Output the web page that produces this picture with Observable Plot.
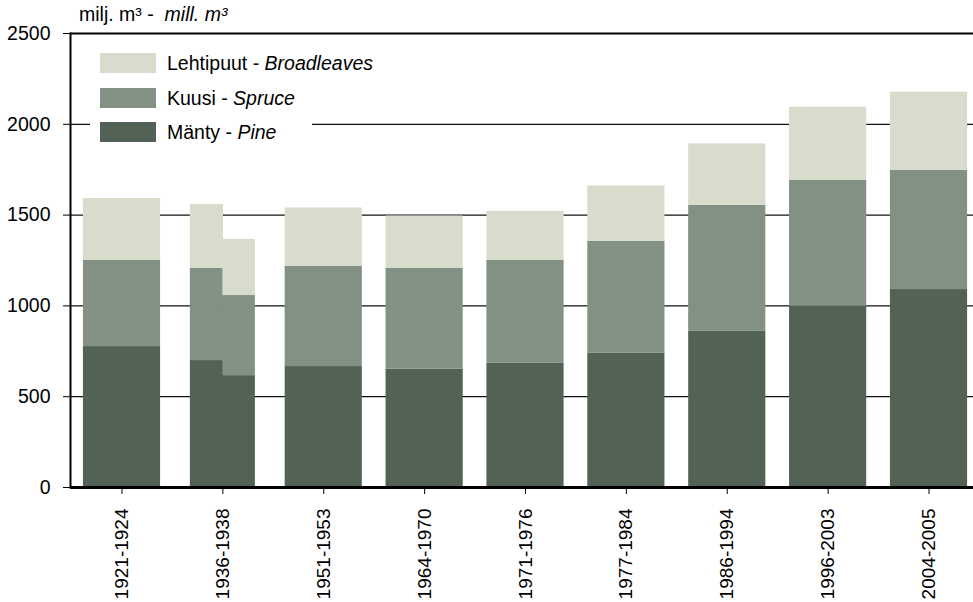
<!DOCTYPE html>
<html><head><meta charset="utf-8">
<script src="https://cdn.jsdelivr.net/npm/d3@7"></script>
<script src="https://cdn.jsdelivr.net/npm/@observablehq/plot@0.6"></script>
<style>
body{margin:0;background:#fff;font-family:"Liberation Sans",Arial,sans-serif;}
#wrap{position:relative;width:973px;height:602px;overflow:hidden;}
#title{position:absolute;left:79px;top:3px;font-size:19.5px;color:#000;white-space:pre;}
#legend{position:absolute;left:90px;top:46px;width:222px;height:104px;background:#fff;}
.row{position:absolute;left:10px;height:20px;display:flex;align-items:center;font-size:19.5px;color:#000;white-space:pre;}
.sw{width:56px;height:20px;margin-right:11px;flex:none;}
#chart svg g[aria-label="y-axis tick label"] text{font-size:19.5px;}
#chart svg g[aria-label="x-axis tick label"] text{font-size:19px;}
</style></head><body>
<div id="wrap"><div id="chart"></div><div id="title"></div><div id="legend"></div></div>
<script>
// ---- data ----
const periods = ["1921-1924","1936-1938","1951-1953","1964-1970","1971-1976","1977-1984","1986-1994","1996-2003","2004-2005"];
const pine        = [776, 699, 666, 651, 684, 739, 860, 998, 1090];
const spruce      = [474, 507, 551, 555, 566, 616, 694, 694, 657];
const broadleaves = [341, 353, 322, 289, 271, 305, 338, 402, 430];
// second 1936-1938 estimate (present-day territory), drawn as the right half-bar
const splitPeriod = "1936-1938";
const pineAlt = [616];
const spruceAlt = [441];
const broadleavesAlt = [309];
const speciesFi = ["Mänty","Kuusi","Lehtipuut"];
const speciesEn = ["Pine","Spruce","Broadleaves"];
const speciesColors = ["#526355","#839184","#d8dccd"];
const yTicks = [0, 500, 1000, 1500, 2000, 2500];
const titleFi = "milj. m³ -  ";
const titleEn = "mill. m³";

// ---- table ----
const rows = [];
periods.forEach((p, i) => {
  const part = p === splitPeriod ? "left" : "full";
  rows.push({period: p, species: speciesFi[0], value: pine[i], part});
  rows.push({period: p, species: speciesFi[1], value: spruce[i], part});
  rows.push({period: p, species: speciesFi[2], value: broadleaves[i], part});
});
rows.push({period: splitPeriod, species: speciesFi[0], value: pineAlt[0], part: "right"});
rows.push({period: splitPeriod, species: speciesFi[1], value: spruceAlt[0], part: "right"});
rows.push({period: splitPeriod, species: speciesFi[2], value: broadleavesAlt[0], part: "right"});

// ---- layout ----
const W = 973, H = 602;
const xRange = [70, 980];
const padIn = 0.235, padOut = 0.128;
const step = (xRange[1] - xRange[0]) / (periods.length - padIn + 2 * padOut);
const bw = step * (1 - padIn);
const halfPair = 32.5; // width of each half bar
const innerInset = bw / 2;
const outerInset = bw / 2 - halfPair;

const chart = Plot.plot({
  width: W, height: H,
  marginLeft: 70, marginRight: 0, marginTop: 33, marginBottom: 115,
  style: {fontFamily: '"Liberation Sans", Arial, sans-serif', fontSize: "19px", color: "#000", background: "#fff"},
  x: {type: "band", domain: periods, range: xRange, paddingInner: padIn, paddingOuter: padOut, align: 0.5, round: false},
  y: {domain: [0, 2500]},
  color: {domain: speciesFi, range: speciesColors},
  marks: [
    Plot.gridY(yTicks.slice(1, -1), {stroke: "#111", strokeOpacity: 1, strokeWidth: 1.2}),
    Plot.ruleY([2500], {stroke: "#000", strokeWidth: 2}),
    Plot.barY(rows.filter(d => d.part === "full"), {x: "period", y: "value", fill: "species", order: speciesFi}),
    Plot.barY(rows.filter(d => d.part === "left"), {x: "period", y: "value", fill: "species", order: speciesFi, insetLeft: outerInset, insetRight: innerInset - 0.6}),
    Plot.barY(rows.filter(d => d.part === "right"), {x: "period", y: "value", fill: "species", order: speciesFi, insetLeft: innerInset, insetRight: outerInset}),
    Plot.ruleY([0], {stroke: "#000", strokeWidth: 3}),
    Plot.frame({anchor: "left", stroke: "#000", strokeWidth: 2}),
    Plot.axisY({ticks: yTicks, tickSize: 7, tickPadding: 13, label: null, fontSize: 20, tickFormat: d => String(d)}),
    Plot.axisX({tickRotate: -90, tickSize: 7, tickPadding: 14, label: null, fontSize: 19})
  ]
});
document.getElementById("chart").appendChild(chart);

// title
const t = document.getElementById("title");
t.append(document.createTextNode(titleFi));
const ti = document.createElement("i"); ti.textContent = titleEn; t.append(ti);

// legend (top entry = top of stack)
const lg = document.getElementById("legend");
const rowTops = [7, 42, 76];
[2, 1, 0].forEach((k, j) => {
  const r = document.createElement("div");
  r.className = "row"; r.style.top = rowTops[j] + "px";
  const sw = document.createElement("div"); sw.className = "sw"; sw.style.background = speciesColors[k];
  const tx = document.createElement("span"); tx.textContent = speciesFi[k] + " - ";
  const it = document.createElement("i"); it.textContent = speciesEn[k];
  r.append(sw, tx, it);
  lg.append(r);
});
</script>
</body></html>
